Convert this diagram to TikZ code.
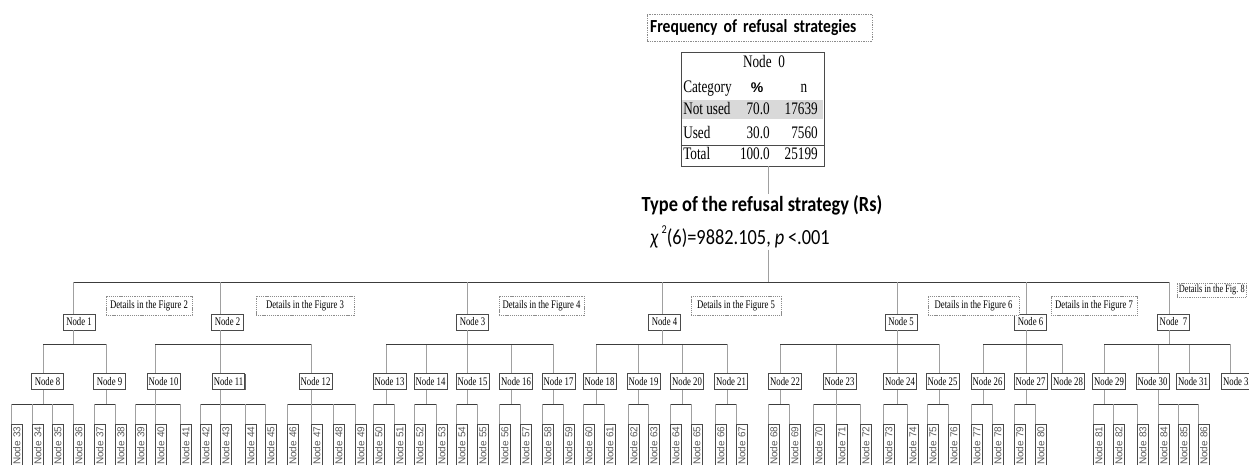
\documentclass[tikz,border=0pt]{standalone}
\usepackage{fontspec}
\usepackage{tikz}
\usetikzlibrary{shadows}
\newfontfamily\treeserif{Liberation Serif}[FakeStretch=0.75]
\newfontfamily\treehead{Carlito}[FakeStretch=0.85]
\newfontfamily\treesans{Liberation Sans}

\definecolor{stemgray}{HTML}{A0A0A0}
\definecolor{barline}{HTML}{3C3C3C}
\definecolor{boxline}{HTML}{4A4A4A}
\definecolor{rowgray}{HTML}{D9D9D9}
\definecolor{dotgray}{HTML}{8C8C8C}
\definecolor{leaftext}{HTML}{5A5A5A}

\tikzset{
  vline/.style={stemgray, line width=0.75pt},
  hline/.style={barline, line width=0.75pt},
  boxshadow/.style={drop shadow={shadow xshift=0.6pt, shadow yshift=-0.6pt, fill=black!60, opacity=1}},
  treenode/.style={draw=boxline, fill=white, line width=0.5pt, boxshadow, inner xsep=1.2pt, inner ysep=0pt,
    minimum width=24pt, minimum height=12pt, font=\treeserif\fontsize{8.7}{9}\selectfont},
  leafnode/.style={draw=boxline, fill=white, line width=0.5pt, boxshadow, rotate=90, anchor=north east,
    inner xsep=1.6pt, inner ysep=0pt, minimum height=8.25pt, text width=30pt, align=right,
    text=leaftext, font=\treesans\fontsize{7.5}{8}\selectfont},
  detailbox/.style={draw=dotgray, fill=white, dash pattern=on 0.8pt off 0.6pt, line width=0.5pt,
    inner xsep=2pt, inner ysep=0pt, minimum height=14.25pt, font=\treeserif\fontsize{8.7}{9}\selectfont},
  titlebox/.style={draw=dotgray, dash pattern=on 1pt off 0.8pt, line width=0.5pt, inner xsep=2.25pt,
    inner ysep=0pt, minimum height=20.25pt, text width=164pt, align=left,
    font=\treehead\bfseries\fontsize{13.8}{15}\selectfont},
  tabframe/.style={draw=boxline, fill=white, line width=0.6pt, boxshadow, minimum width=107.25pt,
    minimum height=85.5pt, inner sep=0pt},
  tabtext/.style={inner sep=0pt, text height=9pt, text depth=2.6pt, font=\treeserif\fontsize{13.2}{14}\selectfont},
  headtext/.style={fill=white, inner sep=1pt, font=\treehead\bfseries\fontsize{16.2}{18}\selectfont},
  stattext/.style={fill=white, inner sep=1pt, font=\treehead\fontsize{16.2}{18}\selectfont},
}

\begin{document}
\begin{tikzpicture}[x=0.75pt,y=0.75pt,yscale=-1,xscale=1]
\useasboundingbox (0,0) rectangle (1249,464);
\clip (0,0) rectangle (1249,464);

% Title
\node[titlebox] (title) at (759.5,27.5) {Frequency of refusal strategies};

% Table of node 0
\node[tabframe] (n0) at (752.5,109) {};
\fill[rowgray] (681.6,100) rectangle (823.4,119);
\draw[boxline, line width=0.6pt] (n0.west |- 0,145) -- (n0.east |- 0,145);
\node[tabtext] (t0) at (764,63) {Node\ \ 0};
\node[tabtext, anchor=west] (tc) at (683,88.5) {Category};
\node[tabtext, font=\treesans\bfseries\fontsize{10.5}{12}\selectfont] (tp) at (757,88.5) {\%};
\node[tabtext] (tn) at (804,88.5) {n};
\node[tabtext, anchor=west] (r1) at (683,110) {Not used};
\node[tabtext, anchor=east] (r1p) at (770,110) {70.0};
\node[tabtext, anchor=east] (r1n) at (818,110) {17639};
\node[tabtext, anchor=west] (r2) at (683,134.5) {Used};
\node[tabtext, anchor=east] (r2p) at (770,134.5) {30.0};
\node[tabtext, anchor=east] (r2n) at (818,134.5) {7560};
\node[tabtext, anchor=west] (r3) at (683,155) {Total};
\node[tabtext, anchor=east] (r3p) at (770,155) {100.0};
\node[tabtext, anchor=east] (r3n) at (818,155) {25199};

% Split variable
\node[headtext] (rs) at (762,205) {Type of the refusal strategy (Rs)};
\node[stattext] (st) at (740,237) {{\itshape χ}\,\raisebox{0.5em}{\fontsize{9}{9}\selectfont 2}(6)=9882.105, {\itshape p}\,<.001};

% Junctions
\coordinate (a0) at (768,166);
\foreach \i/\s in {1/73,2/220,3/467,4/662,5/897,6/1026,7/1169}
  \coordinate (a\i) at (\s,282);
\foreach \i/\s in {8/43,9/106,10/155,11/220,12/311,13/386,14/426,15/467,16/511,17/553,18/596,19/638,
  20/682,21/727,22/780,23/836,24/897,25/939,26/983,27/1026,28/1062,29/1104,30/1158,31/1189,32/1230}
  \coordinate (a\i) at (\s,344);
\foreach \i/\s in {33/11,34/32,35/52,36/73,37/94,38/115,39/135,40/155,41/180,42/200,43/220,44/245,
  45/265,46/287,47/311,48/333,49/355,50/373,51/394,52/414,53/436,54/456,55/477,56/499,57/520,58/542,
  59/563,60/583,61/604,62/628,63/648,64/670,65/691,66/715,67/736,68/768,69/789,70/813,71/836,72/860,
  73/883,74/907,75/927,76/948,77/971,78/992,79/1014,80/1035,81/1093,82/1113,83/1137,84/1158,85/1178,86/1198}
  \coordinate (a\i) at (\s,404);

% Text Node
\foreach \i/\c in {1/79,2/227.5,3/472.5,4/664.5,5/901,6/1030.5}
  \node[treenode] (n\i) at (\c,322) {Node \i};
\node[treenode] (n7) at (1173.5,322) {Node\ \ 7};
\foreach \i/\c in {8/47.5,9/109.5,10/163.5,11/228.5,12/315.5,13/389.5,14/430.5,15/472.5,16/516,
  17/558.5,18/599.5,19/643.5,20/687,21/731,22/785,23/839.5,24/900,25/942.5,26/987.5,27/1030.5,
  28/1068,29/1109,30/1152.5,31/1193,32/1238}
  \node[treenode] (n\i) at (\c,381.5) {Node \i};
\foreach \i in {33,...,86}
  \node[leafnode] (n\i) at (a\i |- 0,424) {Node \i};

% Details
\node[detailbox, minimum width=64.5pt] (d2) at (149,305.5) {Details in the Figure 2};
\node[detailbox, minimum width=73.5pt] (d3) at (305,305.5) {Details in the Figure 3};
\node[detailbox, minimum width=63.75pt] (d4) at (541.5,305.5) {Details in the Figure 4};
\node[detailbox, minimum width=67.5pt] (d5) at (736,305.5) {Details in the Figure 5};
\node[detailbox, minimum width=68.25pt] (d6) at (973.5,306) {Details in the Figure 6};
\node[detailbox, minimum width=64.5pt] (d7) at (1094,306) {Details in the Figure 7};
\node[detailbox, minimum height=10.5pt, inner xsep=1.2pt, anchor=west,
  font=\treeserif\fontsize{8.3}{9}\selectfont] (d8) at (1177,290) {Details in the Fig.~8};

% Connection
\draw[vline] (a0) -- (a0 |- rs.north);
\draw[vline] (a0 |- st.south) -- (a0 |- a1);
\draw[hline] (a1) -- (a7);
\foreach \i in {1,...,32}
  \draw[vline] (a\i) -- (a\i |- n\i.north);
\foreach \p/\f/\l in {1/8/9,2/10/12,3/13/17,4/18/21,5/22/25,6/26/28,7/29/32,8/33/36,9/37/38,10/39/41,
  11/42/45,12/46/49,13/50/51,14/52/53,15/54/55,16/56/57,17/58/59,18/60/61,19/62/63,20/64/65,21/66/67,
  22/68/69,23/70/72,24/73/74,25/75/76,26/77/78,27/79/80,29/81/83,30/84/86}{
  \draw[vline] (a\p |- n\p.south) -- (a\p |- a\f);
  \draw[hline] (a\f) -- (a\l);
}
\foreach \i in {33,...,86}
  \draw[vline] (a\i) -- (n\i.north east);

\end{tikzpicture}
\end{document}
